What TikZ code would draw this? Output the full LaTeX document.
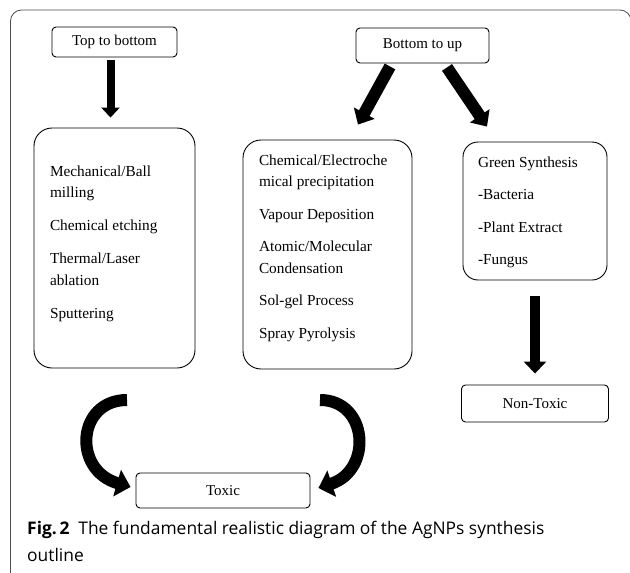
\documentclass[tikz,border=0pt]{standalone}
\usepackage{fontspec}
\setmainfont{Liberation Serif}
\newfontfamily\capfont{Open Sans}
\usetikzlibrary{arrows.meta}

\begin{document}
\begin{tikzpicture}[x=1pt,y=-1pt,
    smallbox/.style={draw,rounded corners=4pt,line width=0.9pt,inner sep=0pt,font=\fontsize{15}{18}\selectfont},
    bigbox/.style={draw,rounded corners=18pt,line width=0.9pt,inner xsep=16pt,inner ysep=0pt,font=\fontsize{15.3}{21.5}\selectfont},
    fatarrow/.style={line width=12pt,-{Triangle[width=23pt,length=13pt]}},
    curl/.style={line width=12pt,-{Triangle[width=27pt,length=14pt]}}]
        \useasboundingbox (0,0) rectangle (630,573);
        % frame
        \draw[black!70,line width=0.8pt,rounded corners=11pt] (10.5,580) -- (10.5,10) -- (631,10) -- (631,580);
        \draw (114.5,42) node[smallbox,minimum width=125pt,minimum height=30pt](tb){Top to bottom};
        \draw (422.5,45.5) node[smallbox,minimum width=133pt,minimum height=35pt](bu){Bottom to up};
        \draw (114.5,248) node[bigbox](mech){\parbox[c][240pt][t]{129pt}{\raggedright\rule{0pt}{48pt}Mechanical/Ball\\milling\\[11.5pt]Chemical etching\\[11.5pt]Thermal/Laser\\ablation\\[11.5pt]Sputtering}};
        \draw (327.5,254.5) node[bigbox](chem){\parbox[c][229pt][t]{137pt}{\raggedright\rule{0pt}{25pt}Chemical/Electroche\\mical precipitation\\[11pt]Vapour Deposition\\[11pt]Atomic/Molecular\\Condensation\\[11pt]Sol-gel Process\\[11pt]Spray Pyrolysis}};
        \draw (535,211) node[bigbox,rounded corners=15pt,inner xsep=15pt](green){\parbox[c][138pt][t]{114pt}{\raggedright\rule{0pt}{25pt}Green Synthesis\\[11pt]-Bacteria\\[11pt]-Plant Extract\\[11pt]-Fungus}};
        \draw (535,403.5) node[smallbox,minimum width=147pt,minimum height=37pt](nt){Non-Toxic};
        \draw (223,490.5) node[smallbox,minimum width=174pt,minimum height=35pt](tox){Toxic};
        \coordinate (lcurl) at (127,400);
        \coordinate (rcurl) at (320,400);
        \draw[fatarrow,line width=8pt,-{Triangle[width=18pt,length=10pt]}]
          ([xshift=-4pt,yshift=-3pt]tb.south) -- ([xshift=-4pt,yshift=10pt]mech.north);
        \draw[fatarrow]
          ([xshift=-32.5pt,yshift=-3pt]bu.south) -- ([xshift=30.5pt,yshift=15pt]chem.north);
        \draw[fatarrow]
          ([xshift=24.5pt,yshift=-4pt]bu.south) -- ([xshift=-48pt,yshift=15pt]green.north);
        \draw[fatarrow,line width=10pt,-{Triangle[width=22pt,length=12pt]}]
          ([yshift=-16pt]green.south) -- ([yshift=11pt]nt.north);
        \draw[curl] (lcurl) .. controls (77,400) and (72,470) .. ([xshift=-5pt,yshift=3.5pt]tox.west);
        \draw[curl] (rcurl) .. controls (368,400) and (373,470) .. ([xshift=8pt,yshift=2.5pt]tox.east);
        \draw (27,520.5) node[anchor=north west,inner sep=0pt,align=left,font=\capfont\fontsize{17.4}{27}\selectfont](cap)
          {\textbf{Fig.\,2}\hspace{0.5em}The fundamental realistic diagram of the AgNPs synthesis\\outline};
      \end{tikzpicture}
\end{document}
